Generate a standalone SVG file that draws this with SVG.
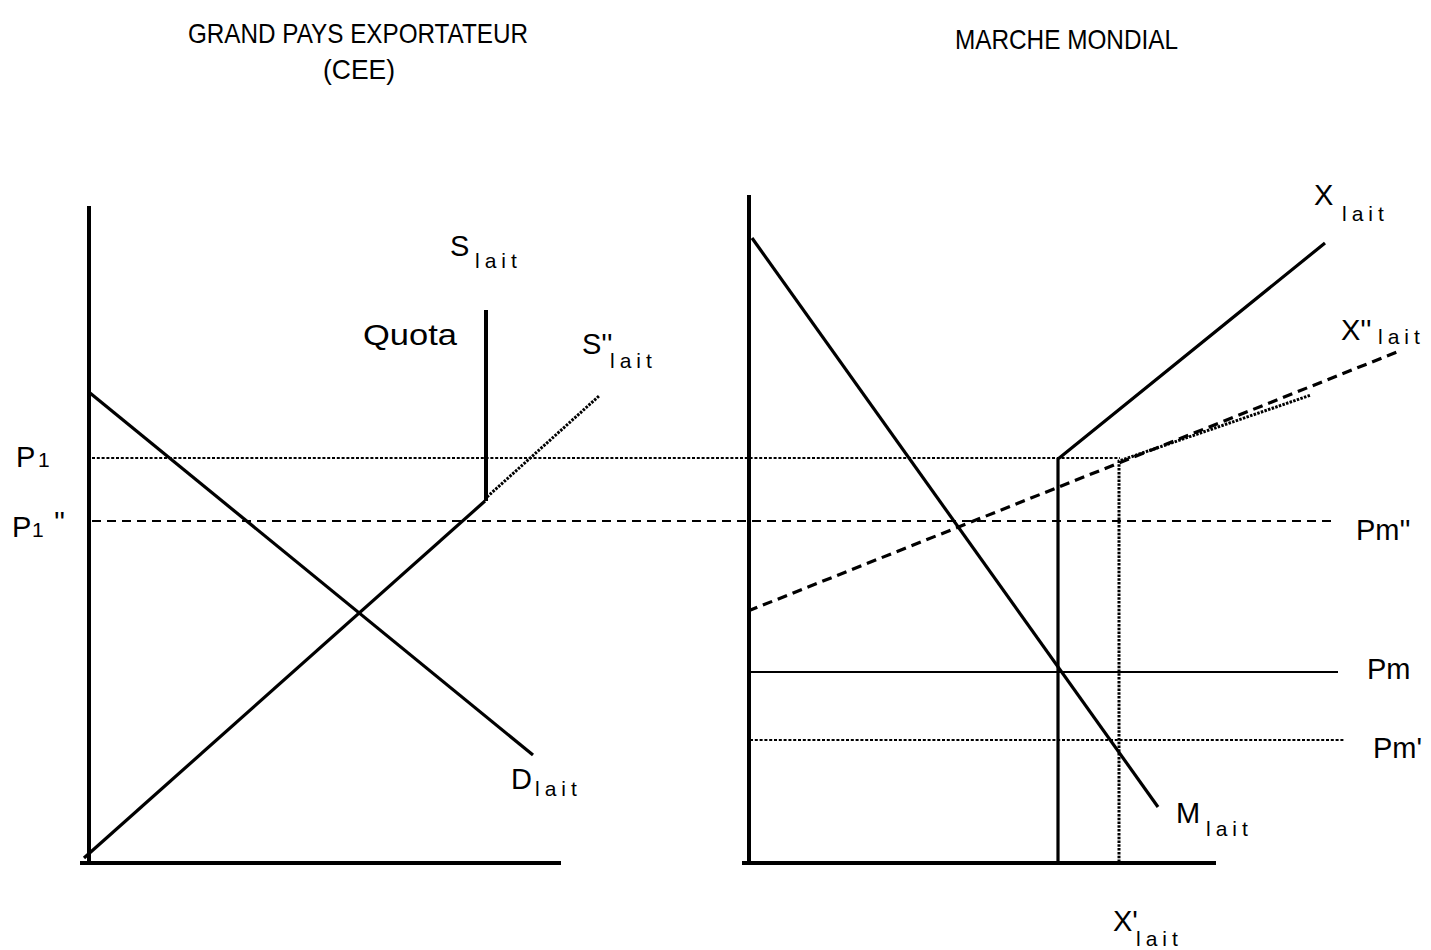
<svg xmlns="http://www.w3.org/2000/svg" width="1431" height="950" viewBox="0 0 1431 950">
<style>
text{font-family:"Liberation Sans","DejaVu Sans",sans-serif;fill:#000}
.big{font-size:29px}
.sub{font-size:21px;letter-spacing:5px}
.ttl{font-size:28px}
.axis{stroke:#000;stroke-width:4;fill:none;stroke-linecap:square}
.curve{stroke:#000;stroke-width:3.2;fill:none}
.dot{stroke:#000;stroke-width:1.8;stroke-dasharray:3 1.8;fill:none}
.dotb{stroke:#000;stroke-width:3;stroke-dasharray:2.5 1.3;fill:none}
.dash{stroke:#000;stroke-width:1.8;stroke-dasharray:9 6;fill:none}
.dashb{stroke:#000;stroke-width:3.2;stroke-dasharray:10 6;fill:none}
.thin{stroke:#000;stroke-width:1.8;fill:none}
</style>
<rect width="1431" height="950" fill="#fff"/>
<g id="titles">
<text class="ttl" x="188" y="43" textLength="340" lengthAdjust="spacingAndGlyphs">GRAND PAYS EXPORTATEUR</text>
<text class="ttl" x="323" y="79" textLength="72" lengthAdjust="spacingAndGlyphs">(CEE)</text>
<text class="ttl" x="955" y="49" textLength="223" lengthAdjust="spacingAndGlyphs">MARCHE MONDIAL</text>
</g>
<g id="connectors">
<line class="dot" x1="92" y1="458" x2="1120" y2="458"/>
<line class="dash" x1="92" y1="521" x2="1335" y2="521"/>
<line class="thin" x1="750" y1="672" x2="1338" y2="672"/>
<line class="dot" x1="750" y1="740" x2="1345" y2="740"/>
</g>
<g id="left-axes">
<line class="axis" x1="89" y1="208" x2="89" y2="862"/>
<line class="axis" x1="82" y1="863" x2="559" y2="863"/>
</g>
<g id="D-lait">
<line class="curve" x1="90" y1="393" x2="533" y2="755"/>
<text class="big" x="511" y="789">D</text>
<text class="sub" x="535" y="796">lait</text>
</g>
<g id="S-lait">
<line class="curve" x1="84" y1="858" x2="485" y2="501"/>
<line class="axis" x1="486" y1="312" x2="486" y2="499"/>
<text class="big" x="450" y="256">S</text>
<text class="sub" x="475" y="268">lait</text>
<text class="big" x="363" y="345" textLength="94" lengthAdjust="spacingAndGlyphs">Quota</text>
</g>
<g id="S2-lait">
<line class="dotb" x1="487" y1="497" x2="599" y2="396"/>
<text class="big" x="582" y="354">S''</text>
<text class="sub" x="610" y="368">lait</text>
</g>
<g id="price-labels-left">
<text class="big" x="16" y="467">P</text>
<text class="sub" x="38" y="467">1</text>
<text class="big" x="12" y="537">P</text>
<text class="sub" x="32" y="537">1</text>
<text class="big" x="54" y="532">''</text>
</g>
<g id="right-axes">
<line class="axis" x1="749" y1="197" x2="749" y2="862"/>
<line class="axis" x1="744" y1="863" x2="1214" y2="863"/>
</g>
<g id="M-lait">
<line class="curve" x1="752" y1="238" x2="1158" y2="807"/>
<text class="big" x="1176" y="823">M</text>
<text class="sub" x="1206" y="836">lait</text>
</g>
<g id="X-lait">
<polyline class="curve" points="1058,862 1058,459 1325,243"/>
<text class="big" x="1314" y="205">X</text>
<text class="sub" x="1342" y="221">lait</text>
</g>
<g id="X2-lait">
<line class="dashb" x1="748" y1="611" x2="1397" y2="352"/>
<text class="big" x="1341" y="340">X''</text>
<text class="sub" x="1378" y="344">lait</text>
</g>
<g id="X1-lait">
<polyline class="dotb" points="1119,862 1119,461 1311,395"/>
<text class="big" x="1113" y="931">X'</text>
<text class="sub" x="1136" y="946">lait</text>
</g>
<g id="price-labels-right">
<text class="big" x="1356" y="540">Pm''</text>
<text class="big" x="1367" y="679">Pm</text>
<text class="big" x="1373" y="758">Pm'</text>
</g>
</svg>
